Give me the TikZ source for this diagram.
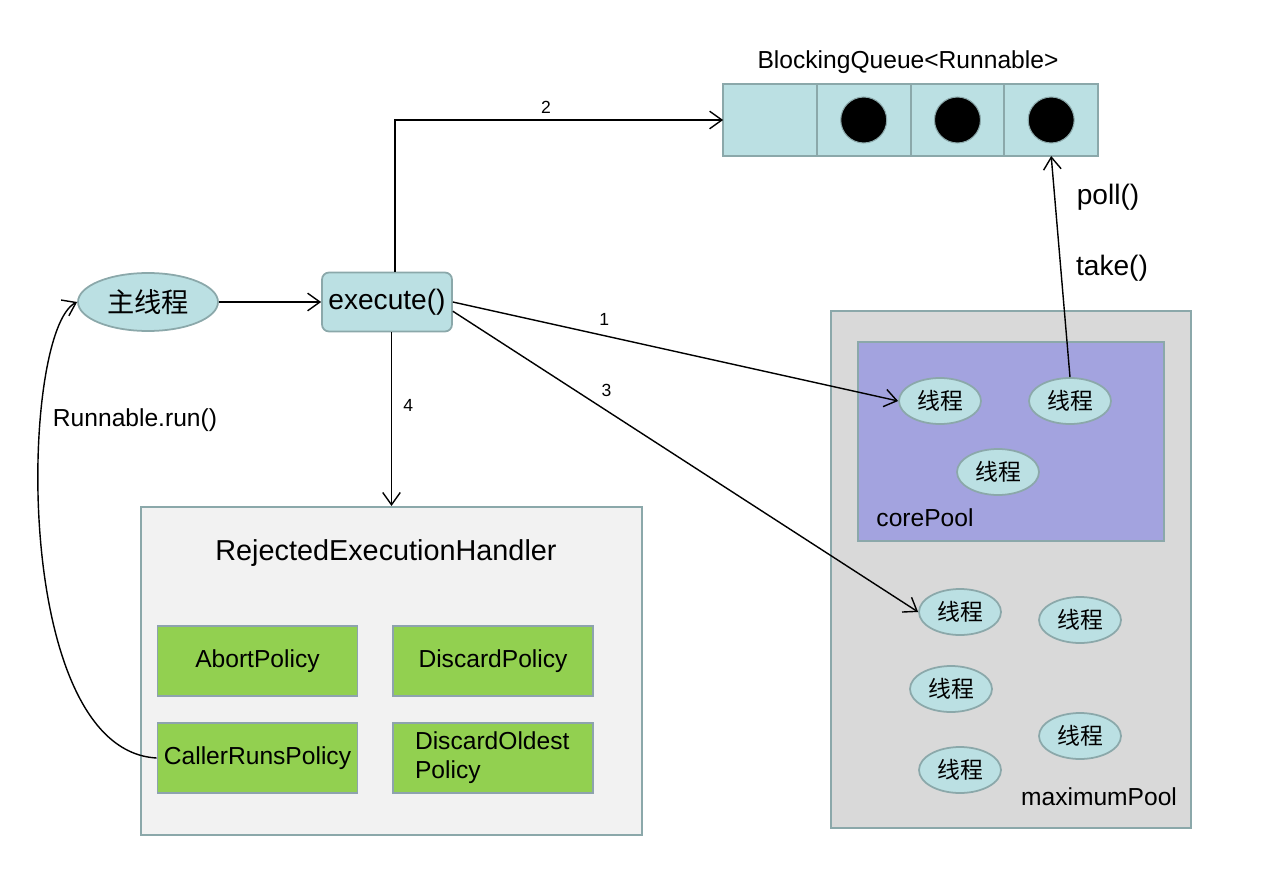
\documentclass[tikz,border=0pt]{standalone}
\usepackage{fontspec}
\setmainfont{Liberation Sans}
\newfontfamily\cjk{Noto Sans CJK SC}
\usepackage{tikz}
\usetikzlibrary{shapes.geometric, arrows.meta, positioning}
\definecolor{tealfill}{HTML}{BBE0E3}
\definecolor{tealline}{HTML}{8BA8AA}
\definecolor{corefill}{HTML}{A3A3DF}
\definecolor{maxfill}{HTML}{D9D9D9}
\definecolor{rejfill}{HTML}{F2F2F2}
\definecolor{policyfill}{HTML}{92D050}
\definecolor{policyline}{HTML}{8EA3AE}
\tikzstyle{thread} = [ellipse, minimum width=1.64cm, minimum height=0.92cm, inner sep=0pt, draw=tealline, line width=1pt, fill=tealfill, font=\cjk\fontsize{13}{15}\selectfont]
\tikzstyle{cell} = [rectangle, minimum width=1.875cm, minimum height=1.44cm, outer sep=0pt, draw=tealline, line width=1.2pt, fill=tealfill]
\tikzstyle{task} = [circle, minimum size=0.92cm, inner sep=0pt, draw=tealline, line width=0.6pt, fill=black]
\tikzstyle{policy} = [rectangle, minimum width=4cm, minimum height=1.4cm, inner sep=2pt, draw=policyline, line width=1pt, fill=policyfill, font=\fontsize{14}{16.5}\selectfont]
\tikzstyle{pool} = [rectangle, draw=tealline, line width=1.2pt]
\tikzset{
  arrow/.style={line width=0.8pt, -{Straight Barb[length=7pt,width=10pt]}},
  num/.style={font=\fontsize{10}{12}\selectfont},
  lbl/.style={font=\fontsize{14}{16.5}\selectfont},
}

\begin{document}
\begin{tikzpicture}[x=0.02cm, y=-0.02cm]
\useasboundingbox (0,0) rectangle (1286,889);

% pools and handler box
\node (maxpool) [pool, fill=maxfill, minimum width=7.2cm, minimum height=10.34cm] at (1011,569.5) {};
\node (corepool) [pool, fill=corefill, minimum width=6.12cm, minimum height=3.98cm] at (1011,441.5) {};
\node (reh) [pool, fill=rejfill, minimum width=10.02cm, minimum height=6.56cm] at (391.5,671) {};
\node (rehtitle) [font=\fontsize{16.4}{19}\selectfont] at (386,553) {RejectedExecutionHandler};
\node (corelbl) [lbl] at (925,518) {corePool};
\node (maxlbl) [lbl] at (1099,797) {maximumPool};

% queue
\node (qlbl) [lbl] at (908,62) {BlockingQueue<Runnable>};
\node (q1) [cell] at (770,120) {};
\node (q2) [cell, right=0pt of q1] {};
\node (q3) [cell, right=0pt of q2] {};
\node (q4) [cell, right=0pt of q3] {};
\node (b2) [task] at (q2) {};
\node (b3) [task] at (q3) {};
\node (b4) [task] at (q4) {};

% main thread and execute
\node (main) [ellipse, minimum width=2.8cm, minimum height=1.16cm, inner sep=0pt, draw=tealline, line width=1pt, fill=tealfill, font=\cjk\fontsize{15.5}{18}\selectfont] at (148,302) {主线程};
\node (exec) [rectangle, rounded corners=4pt, minimum width=2.6cm, minimum height=1.18cm, inner sep=1pt, draw=tealline, line width=1pt, fill=tealfill, font=\fontsize{16}{19}\selectfont] at (387,302) {execute()};

% threads
\node (t1) [thread] at (940,401) {线程};
\node (t2) [thread] at (1070,401) {线程};
\node (t3) [thread] at (998,472) {线程};
\node (t4) [thread] at (960,612) {线程};
\node (t5) [thread] at (1080,620) {线程};
\node (t6) [thread] at (951,689) {线程};
\node (t7) [thread] at (1080,736) {线程};
\node (t8) [thread] at (960,770) {线程};

% policies
\node (abort) [policy] at (257.5,661) {AbortPolicy};
\node (discard) [policy] at (493,661) {DiscardPolicy};
\node (caller) [policy] at (257.5,758) {CallerRunsPolicy};
\node (oldest) [policy, align=left, text width=3.12cm] at (493,758) {DiscardOldest\\Policy};

% connectors
\draw [arrow] (main) -- (exec);
\draw [arrow] ([xshift=0.16cm]exec.north) |- node[num, pos=0.73, above] {2} (q1.west);
\draw [arrow] (exec.east) -- node[num, pos=0.34, above=2pt] {1} (t1.west);
\draw [arrow] (exec.-8) -- node[num, pos=0.33, above=4pt] {3} (t4.west);
\draw [arrow] (reh.north |- exec.south) -- node[num, pos=0.42, right=3pt] {4} (reh.north);
\draw [arrow] (t2.north) -- (q4.south);
\node (poll) [font=\fontsize{16}{19}\selectfont] at (1108,197) {poll()};
\node (take) [font=\fontsize{16}{19}\selectfont] at (1112,268) {take()};
\draw [arrow] (caller.west) .. controls (10,750) and (20,330) .. (main.west);
\node (runlbl) [lbl] at (135,420) {Runnable.run()};

\end{tikzpicture}
\end{document}
